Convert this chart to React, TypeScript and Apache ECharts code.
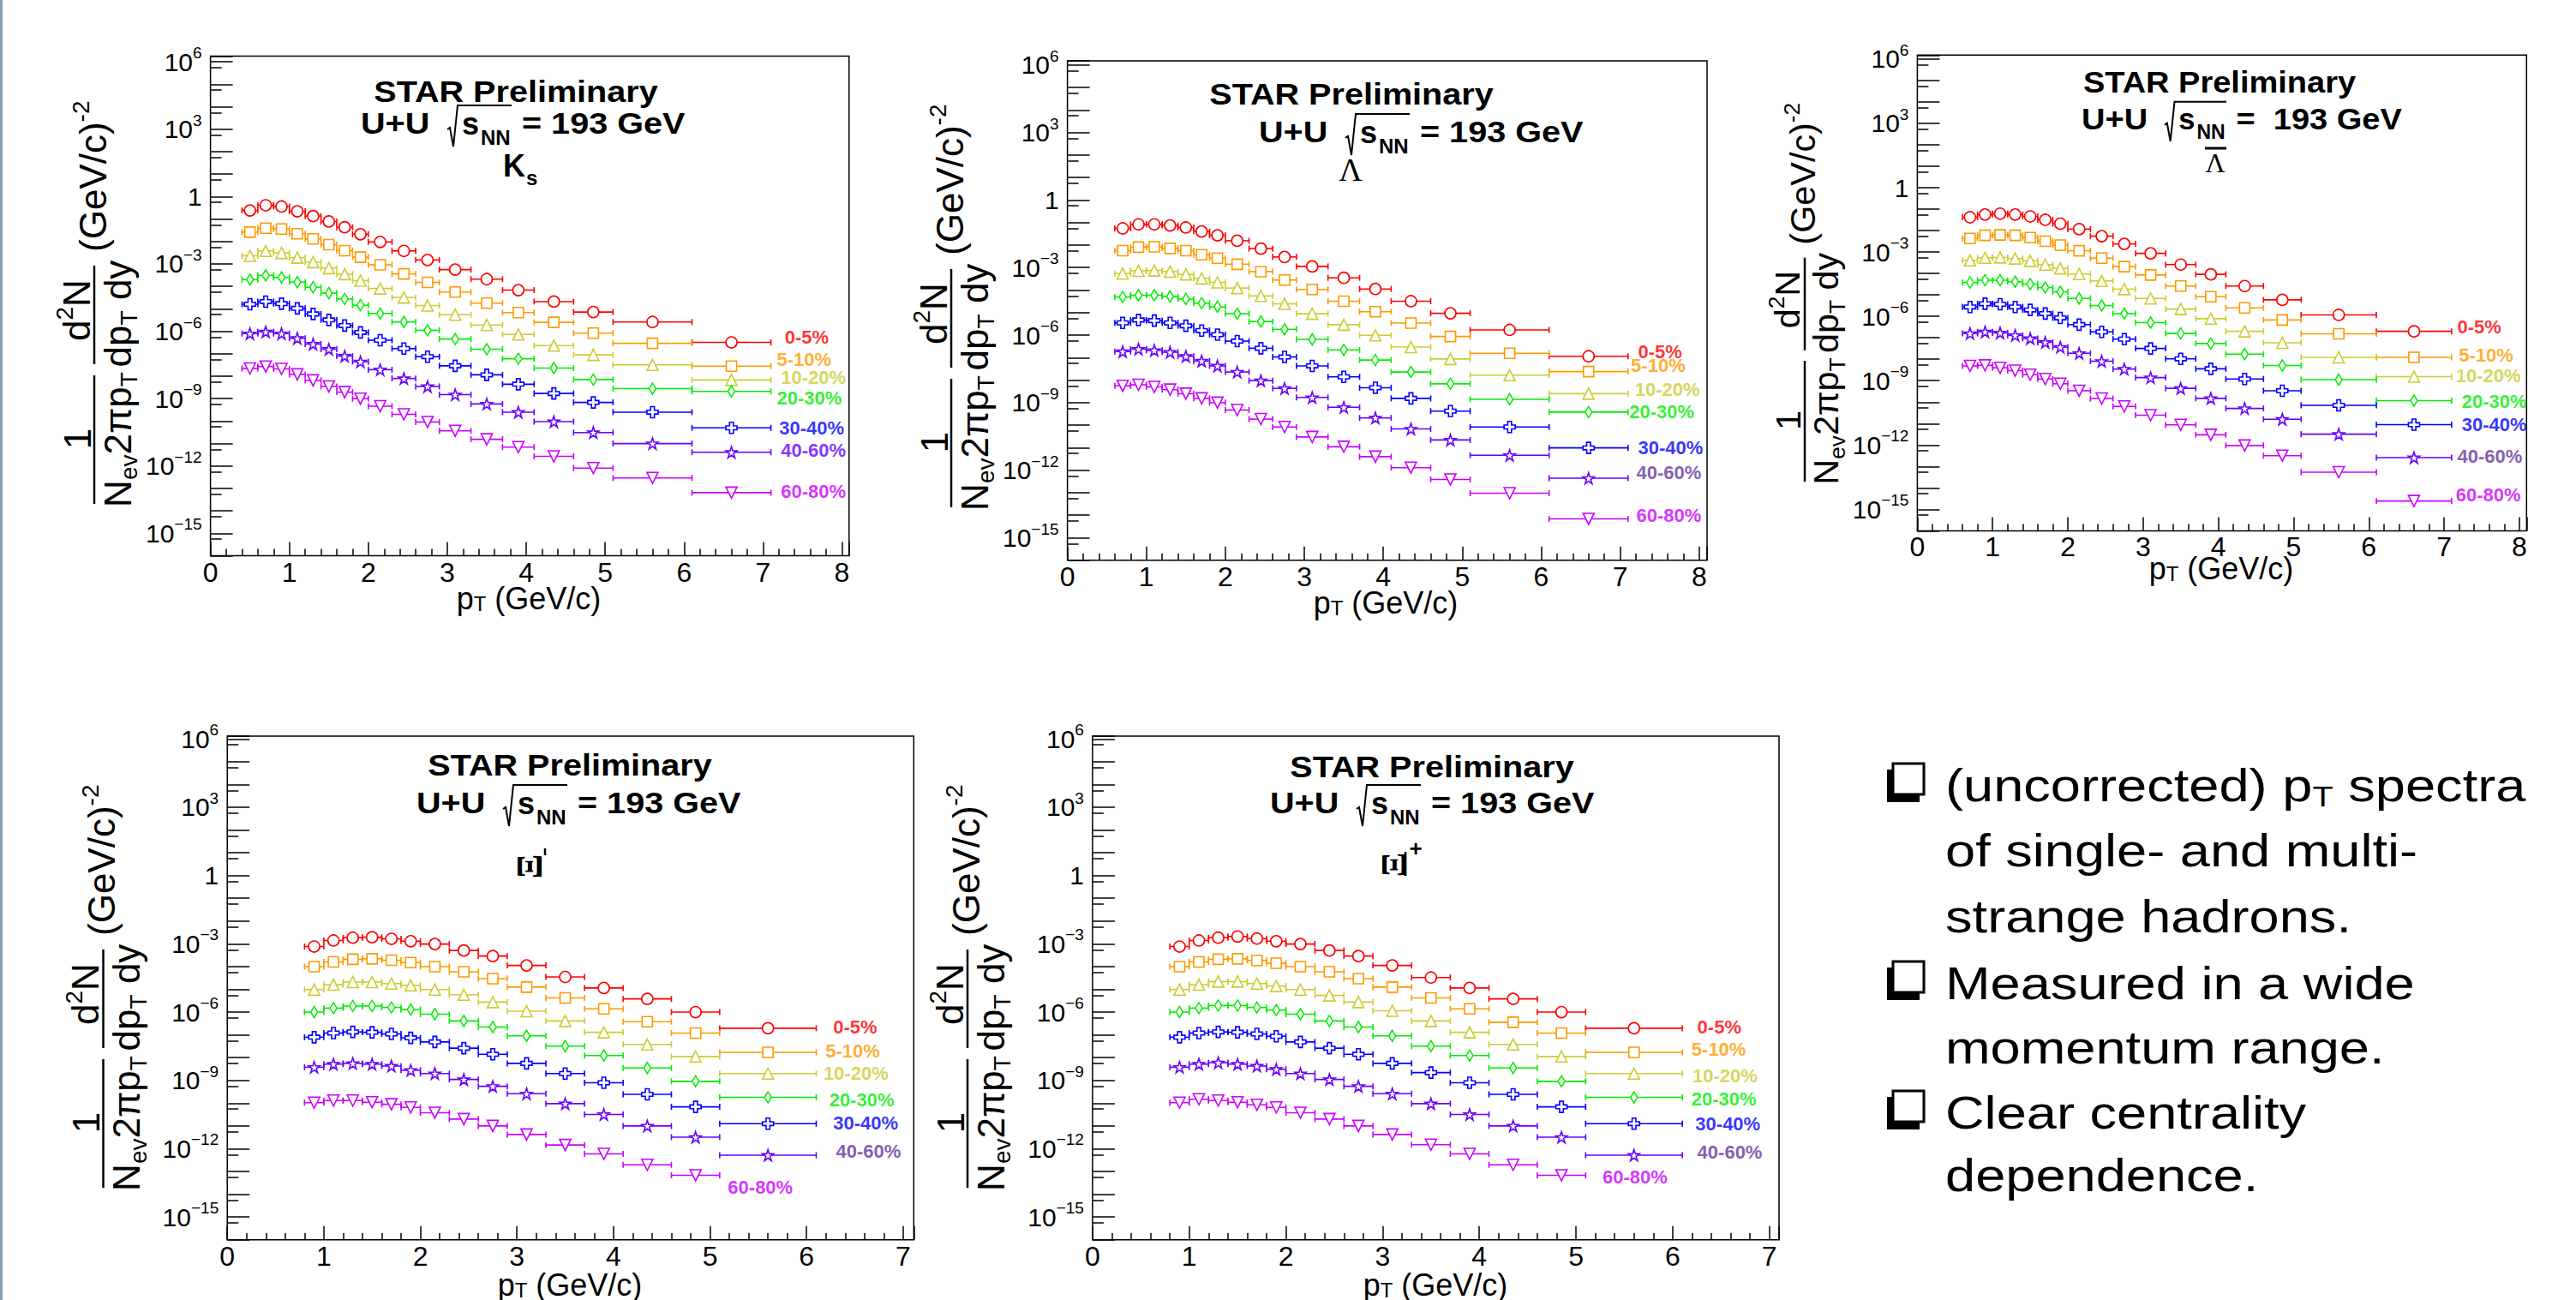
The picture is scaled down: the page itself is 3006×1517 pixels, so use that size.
import React, { useEffect, useRef } from 'react';
import * as echarts from 'echarts';

// ---------------- DATA ----------------
const centralities = ['0-5%', '5-10%', '10-20%', '20-30%', '30-40%', '40-60%', '60-80%'];

// pT bins (GeV/c)
const ksCenters = [0.5, 0.7, 0.9, 1.1, 1.3, 1.5, 1.7, 1.9, 2.15, 2.45, 2.75, 3.1, 3.5, 3.9, 4.35, 4.85, 5.6, 6.6];
const ksLow = [0.4, 0.6, 0.8, 1.0, 1.2, 1.4, 1.6, 1.8, 2.0, 2.3, 2.6, 2.9, 3.3, 3.7, 4.1, 4.6, 5.1, 6.1];
const ksHigh = [0.6, 0.8, 1.0, 1.2, 1.4, 1.6, 1.8, 2.0, 2.3, 2.6, 2.9, 3.3, 3.7, 4.1, 4.6, 5.1, 6.1, 7.1];
const lamCenters = [0.7, 0.9, 1.1, 1.3, 1.5, 1.7, 1.9, 2.15, 2.45, 2.75, 3.1, 3.5, 3.9, 4.35, 4.85, 5.6, 6.6];
const lamLow = [0.6, 0.8, 1.0, 1.2, 1.4, 1.6, 1.8, 2.0, 2.3, 2.6, 2.9, 3.3, 3.7, 4.1, 4.6, 5.1, 6.1];
const lamHigh = [0.8, 1.0, 1.2, 1.4, 1.6, 1.8, 2.0, 2.3, 2.6, 2.9, 3.3, 3.7, 4.1, 4.6, 5.1, 6.1, 7.1];
const xiCenters = [0.9, 1.1, 1.3, 1.5, 1.7, 1.9, 2.15, 2.45, 2.75, 3.1, 3.5, 3.9, 4.35, 4.85, 5.6];
const xiLow = [0.8, 1.0, 1.2, 1.4, 1.6, 1.8, 2.0, 2.3, 2.6, 2.9, 3.3, 3.7, 4.1, 4.6, 5.1];
const xiHigh = [1.0, 1.2, 1.4, 1.6, 1.8, 2.0, 2.3, 2.6, 2.9, 3.3, 3.7, 4.1, 4.6, 5.1, 6.1];

// K0s spectra
const ks_0_5 = [2.4e-1, 4.1e-1, 3.6e-1, 2.2e-1, 1.35e-1, 7.8e-2, 4.3e-2, 2.1e-2, 9.5e-3, 3.8e-3, 1.5e-3, 5.6e-4, 2.1e-4, 6.8e-5, 2.1e-5, 7.2e-6, 2.6e-6, 3.2e-7];
const ks_5_10 = [2.6e-2, 3.9e-2, 3.6e-2, 2.2e-2, 1.3e-2, 7.2e-3, 3.9e-3, 2.0e-3, 9.1e-4, 3.6e-4, 1.5e-4, 5.6e-5, 1.8e-5, 6.8e-6, 2.5e-6, 8.3e-7, 2.9e-7, 2.8e-8];
const ks_10_20 = [2.3e-3, 3.8e-3, 3.1e-3, 1.9e-3, 1.2e-3, 6.5e-4, 3.5e-4, 1.8e-4, 8.1e-5, 3.2e-5, 1.4e-5, 5.5e-6, 1.9e-6, 7.2e-7, 2.3e-7, 8.9e-8, 3.2e-8, 6.8e-9];
const ks_20_30 = [2.0e-4, 3.1e-4, 2.5e-4, 1.55e-4, 9.1e-5, 5.0e-5, 2.75e-5, 1.45e-5, 6.2e-6, 2.6e-6, 1.1e-6, 4.5e-7, 1.6e-7, 6.0e-8, 2.3e-8, 7.1e-9, 2.8e-9, 2.1e-9];
const ks_30_40 = [1.6e-5, 2.1e-5, 1.7e-5, 1.05e-5, 5.9e-6, 3.2e-6, 1.8e-6, 8.9e-7, 4.0e-7, 1.7e-7, 7.4e-8, 2.9e-8, 1.15e-8, 4.4e-9, 1.7e-9, 6.8e-10, 2.5e-10, 5.0e-11];
const ks_40_60 = [7.9e-7, 9.5e-7, 7.9e-7, 4.9e-7, 2.7e-7, 1.6e-7, 7.9e-8, 4.4e-8, 1.95e-8, 7.9e-9, 3.5e-9, 1.5e-9, 5.8e-10, 2.5e-10, 9.5e-11, 3.1e-11, 1.0e-11, 4.1e-12];
const ks_60_80 = [2.2e-8, 2.7e-8, 2.1e-8, 1.2e-8, 6.5e-9, 3.5e-9, 1.95e-9, 1.0e-9, 4.6e-10, 2.0e-10, 9.1e-11, 3.7e-11, 1.55e-11, 6.9e-12, 2.7e-12, 8.1e-13, 2.95e-13, 6.5e-14];
const ksLabelX = [7.27, 7.17, 7.22, 7.17, 7.2, 7.22, 7.22];
const ksLabelY = [5.6e-7, 5.4e-8, 8.7e-9, 1.07e-9, 4.9e-11, 4.9e-12, 7.6e-14];

// Lambda spectra
const lam_0_5 = [5.5e-2, 8.3e-2, 8.3e-2, 7.4e-2, 6.0e-2, 4.0e-2, 2.7e-2, 1.55e-2, 6.9e-3, 2.95e-3, 1.12e-3, 3.5e-4, 1.12e-4, 3.2e-5, 9.3e-6, 1.7e-6, 1.15e-7];
const lam_5_10 = [5.6e-3, 8.1e-3, 8.3e-3, 7.1e-3, 5.6e-3, 3.7e-3, 2.6e-3, 1.4e-3, 6.6e-4, 2.8e-4, 1.07e-4, 3.2e-5, 1.1e-5, 3.4e-6, 8.7e-7, 1.55e-7, 2.4e-8];
const lam_10_20 = [5.4e-4, 7.2e-4, 7.4e-4, 6.6e-4, 5.0e-4, 3.3e-4, 2.2e-4, 1.23e-4, 5.5e-5, 2.45e-5, 8.9e-6, 2.9e-6, 9.8e-7, 2.95e-7, 8.7e-8, 1.66e-8, 2.5e-9];
const lam_20_30 = [4.9e-5, 5.9e-5, 5.9e-5, 5.2e-5, 4.0e-5, 2.6e-5, 1.8e-5, 8.9e-6, 4.0e-6, 1.8e-6, 6.5e-7, 2.2e-7, 7.8e-8, 2.3e-8, 6.9e-9, 1.4e-9, 3.8e-10];
const lam_30_40 = [3.5e-6, 4.7e-6, 4.4e-6, 3.5e-6, 2.6e-6, 1.6e-6, 1.05e-6, 5.4e-7, 2.6e-7, 1.07e-7, 4.3e-8, 1.4e-8, 4.6e-9, 1.55e-9, 4.2e-10, 8.3e-11, 9.8e-12];
const lam_40_60 = [1.86e-7, 2.4e-7, 2.1e-7, 1.74e-7, 1.15e-7, 7.1e-8, 4.3e-8, 2.3e-8, 9.5e-9, 4.3e-9, 1.7e-9, 6.2e-10, 2.1e-10, 6.8e-11, 2.2e-11, 4.6e-12, 4.4e-13];
const lam_60_80 = [5.6e-9, 6.2e-9, 5.0e-9, 3.8e-9, 2.5e-9, 1.55e-9, 1.0e-9, 4.7e-10, 1.86e-10, 8.3e-11, 3.0e-11, 1.1e-11, 4.0e-12, 1.3e-12, 3.9e-13, 9.5e-14, 6.9e-15];
const lamLabelX = [7.22, 7.13, 7.18, 7.11, 7.22, 7.2, 7.2];
const lamLabelY = [1.86e-7, 4.3e-8, 3.8e-9, 3.8e-10, 9.8e-12, 8.1e-13, 9.5e-15];

// anti-Lambda spectra
const alam_0_5 = [4.2e-2, 5.6e-2, 6.2e-2, 5.6e-2, 4.6e-2, 3.2e-2, 2.1e-2, 1.17e-2, 5.5e-3, 2.4e-3, 8.7e-4, 2.6e-4, 9.1e-5, 2.6e-5, 5.9e-6, 1.17e-6, 2.0e-7];
const alam_5_10 = [4.3e-3, 6.0e-3, 6.3e-3, 6.0e-3, 4.7e-3, 3.2e-3, 2.1e-3, 1.15e-3, 5.2e-4, 2.1e-4, 8.5e-5, 2.6e-5, 8.3e-6, 2.5e-6, 6.8e-7, 1.55e-7, 1.23e-8];
const alam_10_20 = [4.1e-4, 5.4e-4, 5.6e-4, 5.0e-4, 3.9e-4, 2.6e-4, 1.74e-4, 9.5e-5, 4.5e-5, 1.86e-5, 6.9e-6, 2.2e-6, 7.8e-7, 2.0e-7, 5.9e-8, 1.23e-8, 1.55e-9];
const alam_20_30 = [3.8e-5, 4.9e-5, 4.9e-5, 4.1e-5, 3.2e-5, 2.2e-5, 1.4e-5, 6.9e-6, 3.2e-6, 1.35e-6, 5.1e-7, 1.6e-7, 5.4e-8, 1.74e-8, 5.1e-9, 1.12e-9, 1.17e-10];
const alam_30_40 = [2.75e-6, 3.9e-6, 3.7e-6, 2.75e-6, 2.0e-6, 1.35e-6, 8.5e-7, 4.1e-7, 1.9e-7, 8.7e-8, 3.2e-8, 1.05e-8, 3.6e-9, 1.2e-9, 3.4e-10, 7.1e-11, 8.9e-12];
const alam_40_60 = [1.6e-7, 1.9e-7, 1.7e-7, 1.3e-7, 9.3e-8, 6.2e-8, 3.7e-8, 1.9e-8, 8.1e-9, 3.5e-9, 1.4e-9, 4.4e-10, 1.5e-10, 5.1e-11, 1.6e-11, 3.2e-12, 2.6e-13];
const alam_60_80 = [4.9e-9, 5.2e-9, 4.0e-9, 2.95e-9, 1.9e-9, 1.2e-9, 7.2e-10, 3.4e-10, 1.48e-10, 6.3e-11, 2.45e-11, 8.7e-12, 3.0e-12, 9.5e-13, 3.2e-13, 5.4e-14, 2.45e-15];
const alamLabelX = [7.17, 7.19, 7.15, 7.23, 7.23, 7.17, 7.15];
const alamLabelY = [3.3e-7, 1.5e-8, 1.7e-9, 1.1e-10, 8.7e-12, 2.95e-13, 4.7e-15];

// Xi- spectra
const xim_0_5 = [7.6e-4, 1.4e-3, 1.86e-3, 1.95e-3, 1.66e-3, 1.3e-3, 9.8e-4, 5.1e-4, 2.9e-4, 1.12e-4, 3.5e-5, 1.15e-5, 3.8e-6, 1.0e-6, 1.95e-7];
const xim_5_10 = [1.0e-4, 1.6e-4, 2.1e-4, 2.2e-4, 1.9e-4, 1.5e-4, 1.0e-4, 5.9e-5, 2.95e-5, 1.26e-5, 4.2e-6, 1.4e-6, 3.8e-7, 1.2e-7, 1.7e-8];
const xim_10_20 = [9.8e-6, 1.6e-5, 2.1e-5, 2.1e-5, 1.8e-5, 1.5e-5, 9.8e-6, 5.8e-6, 2.75e-6, 1.1e-6, 4.1e-7, 1.3e-7, 3.8e-8, 1.12e-8, 2.0e-9];
const xim_20_30 = [1.0e-6, 1.5e-6, 1.86e-6, 1.86e-6, 1.6e-6, 1.3e-6, 8.1e-7, 4.1e-7, 2.2e-7, 9.1e-8, 3.2e-8, 1.23e-8, 3.5e-9, 9.1e-10, 1.8e-10];
const xim_30_40 = [7.9e-8, 1.2e-7, 1.35e-7, 1.3e-7, 1.1e-7, 7.4e-8, 4.9e-8, 2.6e-8, 1.4e-8, 5.6e-9, 2.0e-9, 7.9e-10, 2.45e-10, 6.9e-11, 1.26e-11];
const xim_40_60 = [3.8e-9, 5.2e-9, 5.6e-9, 5.2e-9, 4.3e-9, 2.8e-9, 2.0e-9, 1.1e-9, 5.5e-10, 2.6e-10, 9.5e-11, 3.2e-11, 1.0e-11, 3.2e-12, 5.2e-13];
const xim_60_80 = [1.05e-10, 1.3e-10, 1.3e-10, 1.1e-10, 8.9e-11, 6.5e-11, 3.8e-11, 2.0e-11, 1.0e-11, 4.2e-12, 1.45e-12, 5.9e-13, 1.95e-13, 6.8e-14];
const ximLabelX = [6.27, 6.19, 6.17, 6.23, 6.27, 6.3, 5.18];
const ximLabelY = [2.2e-7, 1.9e-8, 2.0e-9, 1.45e-10, 1.35e-11, 7.8e-13, 2.1e-14];

// anti-Xi+ spectra
const xip_0_5 = [7.6e-4, 1.4e-3, 1.86e-3, 2.1e-3, 1.7e-3, 1.3e-3, 9.8e-4, 5.1e-4, 2.9e-4, 1.12e-4, 3.3e-5, 1.15e-5, 3.8e-6, 1.0e-6, 1.95e-7];
const xip_5_10 = [1.0e-4, 1.6e-4, 2.1e-4, 2.2e-4, 1.86e-4, 1.4e-4, 1.0e-4, 5.9e-5, 2.95e-5, 1.26e-5, 4.2e-6, 1.4e-6, 3.6e-7, 1.2e-7, 1.7e-8];
const xip_10_20 = [9.8e-6, 1.6e-5, 2.2e-5, 2.2e-5, 1.8e-5, 1.4e-5, 9.8e-6, 5.4e-6, 2.75e-6, 1.15e-6, 4.1e-7, 1.3e-7, 3.8e-8, 1.12e-8, 2.0e-9];
const xip_20_30 = [1.0e-6, 1.5e-6, 1.95e-6, 1.95e-6, 1.6e-6, 1.23e-6, 8.1e-7, 4.1e-7, 2.2e-7, 9.1e-8, 3.2e-8, 1.23e-8, 3.5e-9, 9.1e-10, 1.8e-10];
const xip_30_40 = [7.9e-8, 1.2e-7, 1.35e-7, 1.3e-7, 1.1e-7, 8.7e-8, 4.9e-8, 2.6e-8, 1.4e-8, 5.6e-9, 2.2e-9, 7.9e-10, 2.45e-10, 6.9e-11, 1.26e-11];
const xip_40_60 = [3.8e-9, 5.2e-9, 6.0e-9, 5.2e-9, 4.3e-9, 3.1e-9, 2.0e-9, 1.1e-9, 5.5e-10, 2.6e-10, 9.5e-11, 3.2e-11, 1.0e-11, 3.2e-12, 5.2e-13];
const xip_60_80 = [1.05e-10, 1.48e-10, 1.3e-10, 1.1e-10, 8.5e-11, 6.5e-11, 3.8e-11, 2.0e-11, 1.0e-11, 4.2e-12, 1.5e-12, 5.9e-13, 1.95e-13, 6.8e-14];
const xipLabelX = [6.25, 6.19, 6.2, 6.19, 6.23, 6.25, 5.27];
const xipLabelY = [2.2e-7, 2.4e-8, 1.55e-9, 1.55e-10, 1.26e-11, 7.2e-13, 5.9e-14];

const bulletLines = [
  '(uncorrected) p{s|T} spectra',
  'of single- and multi-',
  'strange hadrons.',
  'Measured in a wide',
  'momentum range.',
  'Clear centrality',
  'dependence.',
];

// ---------------- STYLE / LAYOUT ----------------
const FONT = "'Liberation Sans', Arial, Helvetica, sans-serif";
const SERIF = "'Liberation Serif', 'Times New Roman', serif";
const MARKER_COLORS = ['#ff0000', '#ff9900', '#cccc33', '#00ee00', '#0000ff', '#6600ff', '#cc00ff'];
const LABEL_COLORS_A = ['#ff0000', '#ff9900', '#cccc33', '#00ee00', '#0000ff', '#6600ff', '#cc00ff'];
const LABEL_COLORS_B = ['#ff0000', '#ff9900', '#cccc33', '#00ee00', '#0000ff', '#663399', '#cc00ff'];
const PLUS = 'path://M3.3,0H6.7V3.3H10V6.7H6.7V10H3.3V6.7H0V3.3H3.3Z';
const STAR = 'path://M5,0L6.2,3.6L10,3.6L6.9,5.8L8.1,9.5L5,7.2L1.9,9.5L3.1,5.8L0,3.6L3.8,3.6Z';
const TRI_DOWN = 'path://M0,0L10,0L5,8.7Z';
const SYMBOLS = ['circle', 'rect', 'triangle', 'diamond', PLUS, STAR, TRI_DOWN];
const SYMBOL_SIZES: any[] = [13, 12, 13, [8, 13], 13, 13, 13];

const layout = [
  { left: 245.6, top: 65.6, width: 745.2, height: 583.0, xMax: 8.09, yMax: 1.78e6 },
  { left: 1245.6, top: 71.1, width: 746.4, height: 582.7, xMax: 8.1, yMax: 1.5e6 },
  { left: 2237.4, top: 64.3, width: 710.9, height: 555.1, xMax: 8.096, yMax: 1.53e6 },
  { left: 265.2, top: 859, width: 801.1, height: 587.7, xMax: 7.11, yMax: 1.33e6 },
  { left: 1274.9, top: 859, width: 801.1, height: 587.7, xMax: 7.1, yMax: 1.33e6 },
];

function T(x: number, y: number, text: string, o: any = {}) {
  const align = o.align || 'left';
  const valign = o.valign || 'middle';
  return {
    type: 'text', x, y, silent: true, z: 100,
    rotation: o.rotation || 0, scaleX: o.sx || 1, scaleY: o.sy || 1,
    style: {
      text, fill: o.color || '#000',
      fontSize: o.size || 36, fontWeight: o.weight || 'normal', fontFamily: o.family || FONT,
      align, verticalAlign: valign, textAlign: align, textVerticalAlign: valign,
      rich: o.rich,
    },
  };
}

function L(x1: number, y1: number, x2: number, y2: number, w = 2) {
  return { type: 'line', silent: true, z: 100, shape: { x1, y1, x2, y2 }, style: { stroke: '#000', lineWidth: w } };
}

function yTitle(bx: number, by: number, s: number) {
  const F = 44 * s;
  const FS = 28 * s;
  const rich = {
    n: { fontSize: F, fontFamily: FONT, fill: '#000', color: '#000', lineHeight: F * 1.25 },
    s: { fontSize: FS, fontFamily: FONT, fill: '#000', color: '#000', lineHeight: FS, verticalAlign: 'bottom' },
    p: { fontSize: FS, fontFamily: FONT, fill: '#000', color: '#000', lineHeight: FS, verticalAlign: 'top' },
  };
  return {
    type: 'group', x: bx, y: by, rotation: Math.PI / 2, silent: true,
    children: [
      L(0, 0, 150 * s, 0, 2.5),
      T(76 * s, -20 * s, '{n|1}', { align: 'center', rich }),
      T(75 * s, 27 * s, '{n|N}{s|ev}{n|2πp}{s|T}', { align: 'center', rich }),
      L(163 * s, 0, 278 * s, 0, 2.5),
      T(226 * s, -21 * s, '{n|d}{p|2}{n|N}', { align: 'center', rich }),
      T(222 * s, 27 * s, '{n|dp}{s|T}{n| dy}', { align: 'center', rich }),
      T(294 * s, -2 * s, '{n|(GeV/c)}{p|-2}', { align: 'left', rich }),
    ],
  };
}

function xTitle(cx: number, cy: number) {
  const rich = {
    n: { fontSize: 36, fontFamily: FONT, color: '#000', fill: '#000', lineHeight: 36 },
    s: { fontSize: 24, fontFamily: FONT, color: '#000', fill: '#000', lineHeight: 20, verticalAlign: 'bottom' },
  };
  return T(cx, cy, '{n|p}{s|T}{n| (GeV/c)}', { align: 'center', rich });
}

function header(starCx: number, starCy: number, left: number, cy: number, s: number, eq: string) {
  const SX = 1.1;
  return [
    T(starCx, starCy, 'STAR Preliminary', { align: 'center', size: 36 * s, weight: 'bold', sx: SX }),
    T(left, cy, 'U+U', { size: 36 * s, weight: 'bold', sx: SX }),
    {
      type: 'polyline', silent: true, z: 100,
      shape: { points: [[left + 101 * s, cy + 7 * s], [left + 104 * s, cy + 5 * s], [left + 108 * s, cy + 27 * s], [left + 113 * s, cy - 21 * s], [left + 176 * s, cy - 21 * s]] },
      style: { stroke: '#000', lineWidth: 2, fill: null },
    },
    T(left + 118 * s, cy, 's', { size: 36 * s, weight: 'bold' }),
    T(left + 140 * s, cy + 16 * s, 'NN', { size: 24 * s, weight: 'bold' }),
    T(left + 188 * s, cy, eq, { size: 36 * s, weight: 'bold', sx: SX }),
  ];
}

function bullet(x0: number, top: number) {
  return [
    { type: 'rect', silent: true, z: 100, shape: { x: x0, y: top + 7, width: 38, height: 38 }, style: { fill: '#000' } },
    { type: 'rect', silent: true, z: 101, shape: { x: x0 + 7, y: top, width: 36, height: 36 }, style: { fill: '#fff', stroke: '#000', lineWidth: 3 } },
  ];
}

function buildGraphics() {
  const els: any[] = [];
  // thin slide border on the left
  els.push({ type: 'rect', silent: true, shape: { x: 0, y: 0, width: 3, height: 1517 }, style: { fill: '#8c9cb8' } });

  // y titles
  els.push(yTitle(110, 588, 1));
  els.push(yTitle(1110, 592, 1));
  els.push(yTitle(2106, 562, 0.94));
  els.push(yTitle(120.5, 1386, 1));
  els.push(yTitle(1129, 1386, 1));

  // x titles
  els.push(xTitle(617, 698));
  els.push(xTitle(1617, 703));
  els.push(xTitle(2592, 663));
  els.push(xTitle(665, 1499));
  els.push(xTitle(1675, 1499));

  // headers
  els.push(...header(602, 107, 421, 144, 1, '= 193 GeV'));
  els.push(...header(1577, 110, 1469, 154, 1, '= 193 GeV'));
  els.push(...header(2590, 96, 2429, 139, 0.96, '=  193 GeV'));
  els.push(...header(665, 893, 486, 937, 1, '= 193 GeV'));
  els.push(...header(1671, 895, 1482, 937, 1, '= 193 GeV'));

  // particle names
  els.push(T(587, 193, 'K', { size: 36, weight: 'bold' }));
  els.push(T(614, 207, 's', { size: 24, weight: 'bold' }));
  els.push(T(1576, 198, 'Λ', { size: 38, family: SERIF, align: 'center' }));
  els.push(T(2585, 190, 'Λ', { size: 32, family: SERIF, align: 'center' }));
  els.push(L(2573, 173, 2598, 173, 3));
  els.push(T(618, 1011, 'Ξ', { size: 42, family: SERIF, weight: 'bold', align: 'center', rotation: Math.PI / 2 }));
  els.push(L(636, 990, 636, 998, 2.5));
  els.push(T(1627, 1009, 'Ξ', { size: 42, family: SERIF, weight: 'bold', align: 'center', rotation: Math.PI / 2 }));
  els.push(L(1640, 994, 1640, 1022, 2.5));
  els.push(T(1652, 990, '+', { size: 26, weight: 'bold', align: 'center' }));

  // slide text
  const centers = [916, 992, 1069, 1147, 1222, 1298, 1371];
  const rich = {
    s: { fontSize: 34, fontFamily: FONT, color: '#000', fill: '#000', lineHeight: 34, verticalAlign: 'bottom' },
    n: { fontSize: 54, fontFamily: FONT, color: '#000', fill: '#000', lineHeight: 62 },
  };
  bulletLines.forEach((line, i) => {
    const txt = line.indexOf('{s|') >= 0 ? line.replace(/^([^{]*)\{s\|T\}(.*)$/, '{n|$1}{s|T}{n|$2}') : line;
    els.push(T(2270, centers[i], txt, { size: 54, sx: 1.17, rich }));
  });
  [0, 3, 5].forEach((i) => els.push(...bullet(2202, centers[i] - 25)));
  return els;
}

function yLabel(v: number) {
  const e = Math.log10(v);
  const r = Math.round(e);
  if (Math.abs(e - r) > 0.01) return '';
  if (r % 3 !== 0) return '';
  if (r === 0) return '{b|1}';
  return '{b|10}{t|' + (r < 0 ? '−' + -r : String(r)) + '}';
}

function xLabel(v: number) {
  const r = Math.round(v);
  return Math.abs(v - r) < 1e-6 ? String(r) : '';
}

function panelSeries(pi: number, centers: number[], lows: number[], highs: number[], list: number[][], lx: number[], ly: number[], labelColors: string[]) {
  const out: any[] = [];
  list.forEach((vals, ci) => {
    const color = MARKER_COLORS[ci];
    out.push({
      type: 'custom', name: centralities[ci], xAxisIndex: pi, yAxisIndex: pi, z: 2, silent: true, clip: true,
      encode: { x: [0, 1], y: 2 },
      data: vals.map((v, i) => [lows[i], highs[i], v]),
      renderItem: (params: any, api: any) => {
        const a = api.coord([api.value(0), api.value(2)]);
        const b = api.coord([api.value(1), api.value(2)]);
        const y = a[1];
        const cap = 3.5;
        const style = { stroke: color, lineWidth: 1.6 };
        return {
          type: 'group',
          children: [
            { type: 'line', shape: { x1: a[0], y1: y, x2: b[0], y2: y }, style },
            { type: 'line', shape: { x1: a[0], y1: y - cap, x2: a[0], y2: y + cap }, style },
            { type: 'line', shape: { x1: b[0], y1: y - cap, x2: b[0], y2: y + cap }, style },
          ],
        };
      },
    });
    out.push({
      type: 'scatter', name: centralities[ci], xAxisIndex: pi, yAxisIndex: pi, z: 3, silent: true,
      symbol: SYMBOLS[ci], symbolSize: SYMBOL_SIZES[ci],
      itemStyle: { color: '#ffffff', borderColor: color, borderWidth: 1.6, opacity: 1 },
      data: vals.map((v, i) => [centers[i], v]),
    });
  });
  out.push({
    type: 'scatter', xAxisIndex: pi, yAxisIndex: pi, z: 4, silent: true, symbolSize: 1,
    itemStyle: { color: 'rgba(0,0,0,0)' },
    label: { show: true, position: 'right', distance: 0, formatter: (p: any) => p.name, fontSize: 22, fontWeight: 'bold', fontFamily: FONT },
    data: centralities.map((c, i) => ({ name: c, value: [lx[i], ly[i]], label: { color: labelColors[i] } })),
  });
  return out;
}

function buildOption() {
  const tickStyle = { color: '#000', width: 1.5 };
  const grids = layout.map((g) => ({ left: g.left, top: g.top, width: g.width, height: g.height, show: true, borderColor: '#000', borderWidth: 1.5, backgroundColor: 'transparent', containLabel: false }));
  const xAxes = layout.map((g, i) => ({
    type: 'value', gridIndex: i, min: 0, max: g.xMax, interval: 1,
    axisLine: { show: false }, splitLine: { show: false },
    axisTick: { show: true, inside: true, length: 16, lineStyle: tickStyle },
    minorTick: { show: true, splitNumber: 5, length: 8, lineStyle: tickStyle },
    axisLabel: { formatter: xLabel, fontSize: 32, lineHeight: 26, color: '#000', fontFamily: FONT, margin: 6 },
  }));
  const yAxes = layout.map((g, i) => ({
    type: 'log', logBase: 10, gridIndex: i, min: 1e-16, max: g.yMax, interval: 1,
    axisLine: { show: false }, splitLine: { show: false },
    axisTick: { show: true, inside: true, length: 26, lineStyle: tickStyle },
    minorTick: { show: true, splitNumber: 2, length: 13, lineStyle: tickStyle },
    axisLabel: {
      formatter: yLabel, color: '#000', margin: 10,
      rich: {
        b: { fontSize: 30, fontFamily: FONT, color: '#000', lineHeight: 40 },
        t: { fontSize: 19, fontFamily: FONT, color: '#000', lineHeight: 19, verticalAlign: 'top' },
      },
    },
  }));
  const series = [
    ...panelSeries(0, ksCenters, ksLow, ksHigh, [ks_0_5, ks_5_10, ks_10_20, ks_20_30, ks_30_40, ks_40_60, ks_60_80], ksLabelX, ksLabelY, LABEL_COLORS_A),
    ...panelSeries(1, lamCenters, lamLow, lamHigh, [lam_0_5, lam_5_10, lam_10_20, lam_20_30, lam_30_40, lam_40_60, lam_60_80], lamLabelX, lamLabelY, LABEL_COLORS_B),
    ...panelSeries(2, lamCenters, lamLow, lamHigh, [alam_0_5, alam_5_10, alam_10_20, alam_20_30, alam_30_40, alam_40_60, alam_60_80], alamLabelX, alamLabelY, LABEL_COLORS_B),
    ...panelSeries(3, xiCenters, xiLow, xiHigh, [xim_0_5, xim_5_10, xim_10_20, xim_20_30, xim_30_40, xim_40_60, xim_60_80], ximLabelX, ximLabelY, LABEL_COLORS_B),
    ...panelSeries(4, xiCenters, xiLow, xiHigh, [xip_0_5, xip_5_10, xip_10_20, xip_20_30, xip_30_40, xip_40_60, xip_60_80], xipLabelX, xipLabelY, LABEL_COLORS_B),
  ];
  return {
    animation: false,
    backgroundColor: '#ffffff',
    grid: grids,
    xAxis: xAxes,
    yAxis: yAxes,
    series,
    graphic: { elements: buildGraphics() },
  };
}

export default function App() {
  const ref = useRef<HTMLDivElement>(null);
  useEffect(() => {
    const chart = echarts.init(ref.current as HTMLDivElement, null, { renderer: 'svg' });
    chart.setOption(buildOption() as any);
    return () => chart.dispose();
  }, []);
  return <div ref={ref} style={{ position: 'fixed', left: 0, top: 0, width: 3006, height: 1517, background: '#fff' }} />;
}
